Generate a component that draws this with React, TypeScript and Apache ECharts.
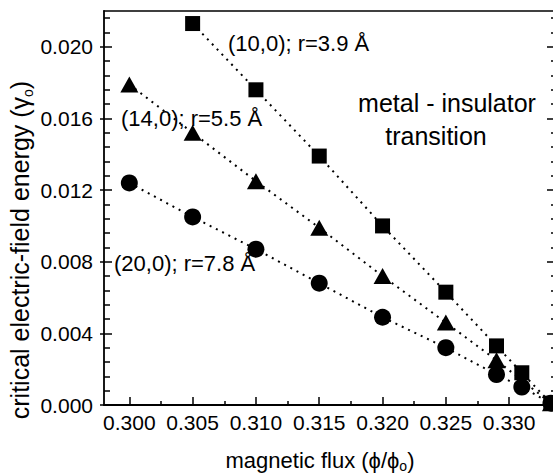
import React, { useEffect, useRef } from "react";
import * as echarts from "echarts";

const xTickLabels = ["0.300", "0.305", "0.310", "0.315", "0.320", "0.325", "0.330"];
const yTickLabels = ["0.000", "0.004", "0.008", "0.012", "0.016", "0.020"];

const flux10 = [0.305, 0.31, 0.315, 0.32, 0.325, 0.329, 0.331, 0.3333];
const energy10 = [0.0213, 0.0176, 0.0139, 0.01, 0.0063, 0.0033, 0.0018, 0.0001];
const flux14 = [0.3, 0.305, 0.31, 0.315, 0.32, 0.325, 0.329, 0.3333];
const energy14 = [0.0179, 0.0152, 0.0125, 0.0099, 0.0072, 0.0046, 0.0025, 0.0001];
const flux20 = [0.3, 0.305, 0.31, 0.315, 0.32, 0.325, 0.329, 0.331, 0.3333];
const energy20 = [0.0124, 0.0105, 0.0087, 0.0068, 0.0049, 0.0032, 0.0017, 0.001, 0.0001];

const FONT = "'Liberation Sans', Arial, Helvetica, sans-serif";
const X_MIN = 0.298;
const X_MAX = 0.3337;
const Y_MIN = 0;
const Y_MAX = 0.022;

const xMajor = xTickLabels.map(Number);
const xMinor = xMajor.slice(0, -1).map((v) => Math.round((v + 0.0025) * 10000) / 10000);
const yMajor = yTickLabels.map(Number);
const yMinor: number[] = [];
for (let k = 0; k * 8 <= 216; k++) {
  if (k % 5 !== 0) yMinor.push((k * 8) / 10000);
}

const pair = (xs: number[], ys: number[]) => xs.map((x, i) => [x, ys[i]]);

export default function App() {
  const ref = useRef<HTMLDivElement>(null);
  useEffect(() => {
    if (!ref.current) return;
    const chart = echarts.init(ref.current, undefined, { renderer: "svg" });
    const black = "#000";
    const baseX = {
      type: "value" as const,
      min: X_MIN,
      max: X_MAX,
      splitLine: { show: false },
    };
    const baseY = {
      type: "value" as const,
      min: Y_MIN,
      max: Y_MAX,
      splitLine: { show: false },
    };
    const lineSeries = (xs: number[], ys: number[], symbol: string, size: any) => ({
      type: "line",
      data: pair(xs, ys),
      symbol,
      symbolSize: size,
      showSymbol: true,
      clip: false,
      itemStyle: { color: black },
      lineStyle: { color: black, width: 2, type: [2, 5] },
      z: 3,
    });
    const sub = { fontSize: 14, fontFamily: FONT, fill: black, verticalAlign: "bottom", lineHeight: 14 };
    chart.setOption({
      animation: false,
      backgroundColor: "#fff",
      grid: { left: 104, top: 11, width: 452, height: 394 },
      xAxis: [
        {
          ...baseX,
          position: "bottom",
          axisLine: { show: true, onZero: false, lineStyle: { color: black, width: 1.8 } },
          axisTick: { show: true, inside: true, length: 8, customValues: xMajor, lineStyle: { color: black, width: 1.5 } },
          axisLabel: {
            show: true,
            customValues: xMajor,
            formatter: (v: number) => v.toFixed(3),
            color: black,
            fontSize: 21,
            fontFamily: FONT,
            margin: 7,
          },
        },
        {
          ...baseX,
          position: "bottom",
          axisLine: { show: false, onZero: false },
          axisTick: { show: true, inside: true, length: 4, customValues: xMinor, lineStyle: { color: black, width: 1.5 } },
          axisLabel: { show: false },
        },
        {
          ...baseX,
          position: "top",
          axisLine: { show: true, onZero: false, lineStyle: { color: black, width: 1.5 } },
          axisTick: { show: false },
          axisLabel: { show: false },
        },
      ],
      yAxis: [
        {
          ...baseY,
          position: "left",
          axisLine: { show: true, onZero: false, lineStyle: { color: black, width: 1.8 } },
          axisTick: { show: true, inside: true, length: 8, customValues: yMajor, lineStyle: { color: black, width: 1.5 } },
          axisLabel: {
            show: true,
            customValues: yMajor,
            formatter: (v: number) => v.toFixed(3),
            color: black,
            fontSize: 21,
            fontFamily: FONT,
            margin: 11,
          },
        },
        {
          ...baseY,
          position: "left",
          axisLine: { show: false, onZero: false },
          axisTick: { show: true, inside: true, length: 6, customValues: yMinor, lineStyle: { color: black, width: 1.5 } },
          axisLabel: { show: false },
        },
        {
          ...baseY,
          position: "left",
          axisLine: { show: false, onZero: false },
          axisTick: { show: true, inside: false, length: 4, customValues: yMajor, lineStyle: { color: black, width: 1.5 } },
          axisLabel: { show: false },
        },
        {
          ...baseY,
          position: "right",
          axisLine: { show: true, onZero: false, lineStyle: { color: black, width: 1.5 } },
          axisTick: { show: true, inside: true, length: 9, customValues: yMajor, lineStyle: { color: black, width: 1.5 } },
          axisLabel: { show: false },
        },
        {
          ...baseY,
          position: "right",
          axisLine: { show: false, onZero: false },
          axisTick: { show: true, inside: true, length: 5, customValues: yMinor, lineStyle: { color: black, width: 1.5 } },
          axisLabel: { show: false },
        },
      ],
      series: [
        lineSeries(flux10, energy10, "rect", 15),
        lineSeries(flux14, energy14, "triangle", [18, 16]),
        lineSeries(flux20, energy20, "circle", 17),
      ],
      graphic: [
        {
          type: "text",
          x: 20,
          y: 250,
          rotation: Math.PI / 2,
          style: {
            text: "critical electric-field energy (γ{s|o})",
            fontSize: 25,
            fontFamily: FONT,
            fill: black,
            align: "center",
            verticalAlign: "middle",
            lineHeight: 29,
            rich: { s: sub },
          },
        },
        {
          type: "text",
          x: 320,
          y: 460,
          style: {
            text: "magnetic flux (ϕ/ϕ{s|o})",
            fontSize: 22,
            fontFamily: FONT,
            fill: black,
            align: "center",
            verticalAlign: "middle",
            lineHeight: 26,
            rich: { s: sub },
          },
        },
        {
          type: "text",
          x: 228,
          y: 43,
          style: { text: "(10,0); r=3.9 Å", fontSize: 22, fontFamily: FONT, fill: black, align: "left", verticalAlign: "middle" },
        },
        {
          type: "text",
          x: 121,
          y: 118,
          style: { text: "(14,0); r=5.5 Å", fontSize: 22, fontFamily: FONT, fill: black, align: "left", verticalAlign: "middle" },
        },
        {
          type: "text",
          x: 114,
          y: 263,
          style: { text: "(20,0); r=7.8 Å", fontSize: 22, fontFamily: FONT, fill: black, align: "left", verticalAlign: "middle" },
        },
        {
          type: "text",
          x: 447,
          y: 103,
          style: { text: "metal - insulator", fontSize: 25, fontFamily: FONT, fill: black, align: "center", verticalAlign: "middle" },
        },
        {
          type: "text",
          x: 436,
          y: 136,
          style: { text: "transition", fontSize: 25, fontFamily: FONT, fill: black, align: "center", verticalAlign: "middle" },
        },
      ],
    });
    return () => chart.dispose();
  }, []);
  return (
    <div style={{ position: "fixed", left: 0, top: 0, width: 553, height: 475, overflow: "hidden", background: "#fff" }}>
      <div ref={ref} style={{ width: 560, height: 475 }} />
    </div>
  );
}
